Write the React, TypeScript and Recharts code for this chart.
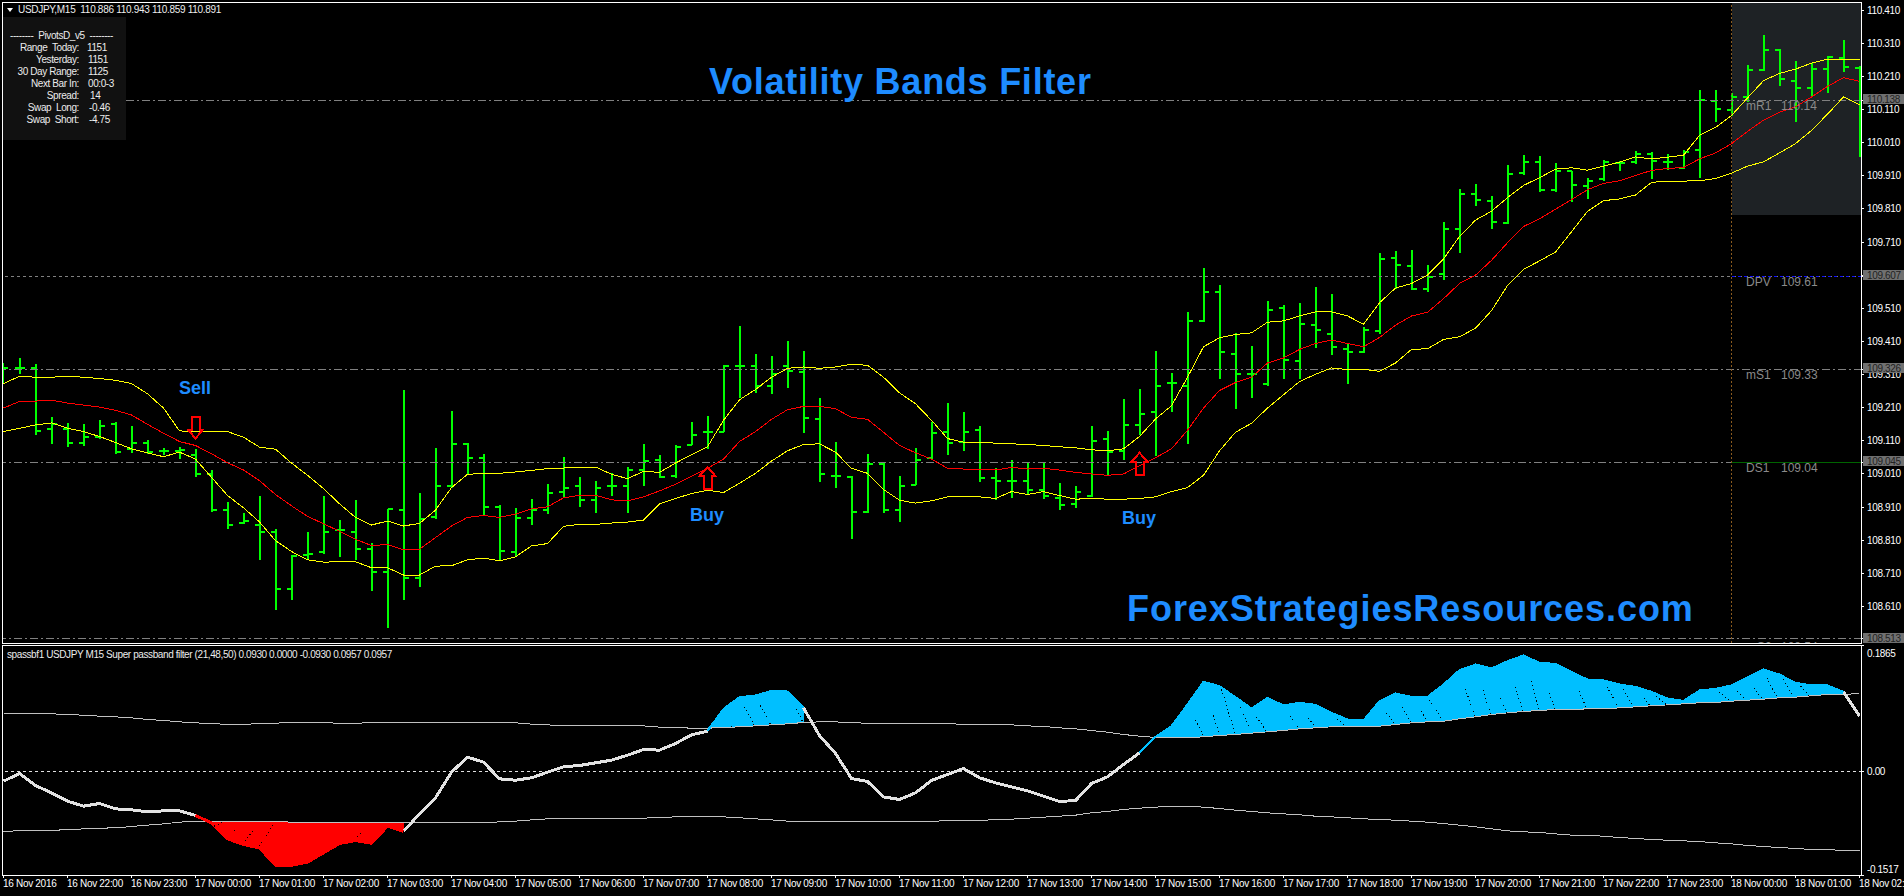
import {
  Area,
  Bar,
  ComposedChart,
  Line,
  ReferenceArea,
  ReferenceLine,
  XAxis,
  YAxis,
} from 'recharts';

const OPEN = [109.315,109.329,109.329,109.145,109.145,109.105,109.123,109.160,109.084,109.105,109.079,109.079,109.068,109.010,108.901,108.862,108.855,108.836,108.664,108.766,108.775,108.840,108.836,108.784,108.713,108.901,108.696,108.879,108.975,109.101,109.058,108.910,108.776,108.877,108.901,108.957,108.975,108.932,108.975,108.975,109.022,109.052,109.003,109.096,109.138,109.138,109.335,109.335,109.277,109.335,109.318,109.175,109.005,109.000,108.895,109.039,108.901,108.978,109.059,109.138,109.108,109.142,108.998,108.990,108.990,108.961,108.938,108.920,108.945,109.117,109.080,109.158,109.197,109.286,109.277,109.471,109.560,109.372,109.311,109.283,109.511,109.351,109.461,109.433,109.388,109.379,109.443,109.661,109.637,109.569,109.613,109.749,109.856,109.834,109.767,109.918,109.953,109.867,109.923,109.878,109.899,109.948,109.951,109.977,109.951,109.934,109.988,110.137,110.108,110.149,110.229,110.291,110.197,110.176,110.232,110.265,110.234];
const HIGH = [109.345,109.360,109.341,109.182,109.163,109.160,109.172,109.166,109.154,109.113,109.089,109.092,109.084,109.022,108.924,108.892,108.943,108.843,108.764,108.836,108.943,108.870,108.932,108.803,108.904,109.262,108.953,109.089,109.199,109.103,109.071,108.917,108.906,108.935,108.979,109.062,109.000,108.990,109.012,109.032,109.099,109.068,109.096,109.166,109.185,109.338,109.456,109.372,109.367,109.411,109.382,109.239,109.107,109.003,109.071,109.042,109.005,109.089,109.166,109.224,109.197,109.154,109.027,109.052,109.046,109.046,108.984,108.973,109.154,109.139,109.236,109.267,109.382,109.314,109.499,109.631,109.581,109.436,109.397,109.532,109.520,109.526,109.575,109.554,109.404,109.453,109.677,109.682,109.686,109.640,109.770,109.870,109.884,109.850,109.942,109.973,109.969,109.948,109.924,109.903,109.959,109.955,109.984,109.983,109.977,109.988,110.170,110.170,110.160,110.244,110.335,110.293,110.256,110.250,110.272,110.320,110.241];
const LOW = [109.281,109.311,109.129,109.102,109.090,109.094,109.117,109.070,109.074,109.071,109.066,109.056,109.000,108.895,108.844,108.858,108.751,108.598,108.631,108.751,108.770,108.760,108.751,108.658,108.545,108.631,108.670,108.873,108.969,109.010,108.883,108.748,108.760,108.855,108.889,108.938,108.909,108.892,108.945,108.892,108.973,108.998,108.998,109.096,109.086,109.136,109.240,109.254,109.252,109.271,109.133,108.985,108.969,108.813,108.893,108.893,108.865,108.978,109.055,109.068,109.080,108.985,108.932,108.938,108.947,108.935,108.901,108.906,108.941,109.007,109.053,109.129,109.065,109.197,109.102,109.468,109.298,109.206,109.238,109.277,109.298,109.296,109.390,109.370,109.283,109.376,109.431,109.569,109.564,109.558,109.596,109.677,109.819,109.749,109.764,109.911,109.862,109.860,109.831,109.840,109.895,109.924,109.945,109.899,109.926,109.930,109.902,110.071,110.090,110.133,110.225,110.182,110.071,110.148,110.161,110.223,109.967];
const CLOSE = [109.329,109.329,109.141,109.162,109.105,109.121,109.154,109.077,109.105,109.077,109.079,109.082,109.010,108.901,108.856,108.868,108.836,108.662,108.762,108.768,108.836,108.840,108.784,108.713,108.903,108.696,108.873,108.975,109.099,109.058,108.910,108.778,108.877,108.901,108.954,108.967,108.932,108.969,108.975,109.022,109.049,109.000,109.092,109.129,109.138,109.335,109.335,109.277,109.311,109.320,109.179,109.010,109.005,108.894,109.039,108.901,108.975,109.052,109.133,109.105,109.136,108.998,108.988,108.990,108.963,108.945,108.916,108.957,109.111,109.077,109.157,109.191,109.277,109.286,109.471,109.559,109.377,109.311,109.311,109.505,109.355,109.464,109.446,109.392,109.379,109.446,109.658,109.640,109.569,109.606,109.749,109.856,109.837,109.772,109.915,109.953,109.868,109.924,109.882,109.895,109.951,109.948,109.975,109.955,109.951,109.982,110.139,110.111,110.149,110.228,110.291,110.203,110.176,110.232,110.269,110.238,110.047];

const BAND_UPPER = [109.283,109.305,109.302,109.302,109.305,109.302,109.298,109.293,109.283,109.252,109.209,109.140,109.138,109.138,109.138,109.121,109.091,109.085,109.043,109.006,108.966,108.920,108.879,108.856,108.868,108.853,108.861,108.901,108.969,109.009,109.012,109.012,109.016,109.021,109.026,109.028,109.031,109.031,109.009,108.996,109.018,109.015,109.043,109.068,109.092,109.172,109.234,109.265,109.302,109.329,109.333,109.329,109.333,109.341,109.338,109.302,109.255,109.222,109.172,109.117,109.106,109.106,109.103,109.101,109.099,109.096,109.092,109.089,109.083,109.080,109.086,109.123,109.176,109.216,109.302,109.394,109.421,109.431,109.436,109.468,109.472,109.487,109.499,109.499,109.487,109.462,109.527,109.571,109.585,109.610,109.659,109.727,109.776,109.803,109.844,109.881,109.904,109.930,109.934,109.927,109.939,109.951,109.967,109.961,109.966,109.972,110.032,110.056,110.092,110.145,110.197,110.219,110.232,110.250,110.262,110.260,110.262];
const BAND_MID = [109.209,109.229,109.230,109.233,109.224,109.218,109.212,109.202,109.188,109.160,109.133,109.108,109.096,109.071,109.044,109.022,108.990,108.948,108.914,108.882,108.860,108.837,108.813,108.794,108.797,108.781,108.783,108.818,108.853,108.879,108.885,108.879,108.889,108.905,108.911,108.938,108.946,108.946,108.932,108.929,108.941,108.959,108.979,109.003,109.027,109.055,109.108,109.138,109.175,109.204,109.214,109.214,109.207,109.181,109.175,109.136,109.096,109.074,109.055,109.027,109.025,109.025,109.022,109.030,109.025,109.027,109.022,109.015,109.010,109.006,109.010,109.035,109.059,109.086,109.142,109.209,109.262,109.286,109.302,109.345,109.360,109.386,109.404,109.414,109.404,109.394,109.422,109.459,109.487,109.498,109.539,109.585,109.610,109.655,109.708,109.757,109.780,109.809,109.838,109.868,109.887,109.895,109.911,109.926,109.932,109.935,109.961,109.979,110.007,110.044,110.078,110.102,110.118,110.148,110.180,110.206,110.195];
const BAND_LOWER = [109.138,109.148,109.158,109.164,109.148,109.138,109.123,109.105,109.086,109.074,109.062,109.076,109.055,109.000,108.945,108.908,108.865,108.809,108.776,108.751,108.744,108.745,108.745,108.727,108.727,108.705,108.705,108.732,108.733,108.751,108.756,108.748,108.760,108.793,108.800,108.852,108.858,108.858,108.862,108.865,108.871,108.920,108.936,108.951,108.961,108.954,108.982,109.012,109.049,109.080,109.099,109.101,109.076,109.027,109.012,108.963,108.931,108.922,108.929,108.941,108.943,108.941,108.936,108.957,108.948,108.957,108.945,108.934,108.936,108.934,108.934,108.936,108.941,108.957,108.969,109.006,109.080,109.136,109.163,109.209,109.249,109.289,109.311,109.330,109.325,109.326,109.320,109.345,109.386,109.388,109.416,109.424,109.450,109.503,109.579,109.628,109.653,109.680,109.741,109.803,109.835,109.840,109.852,109.890,109.894,109.894,109.895,109.902,109.918,109.939,109.952,109.979,110.007,110.047,110.096,110.148,110.124];

const FILTER = [-0.0137,-0.0025,-0.0201,-0.0309,-0.0431,-0.0505,-0.0466,-0.0544,-0.0559,-0.0588,-0.0574,-0.0574,-0.0642,-0.0750,-0.0985,-0.1069,-0.1118,-0.1373,-0.1373,-0.1328,-0.1191,-0.1054,-0.1010,-0.1049,-0.0799,-0.0877,-0.0618,-0.0382,-0.0005,0.0216,0.0142,-0.0103,-0.0123,-0.0088,-0.0005,0.0074,0.0093,0.0132,0.0172,0.0245,0.0328,0.0319,0.0417,0.0544,0.0598,0.0926,0.1098,0.1123,0.1191,0.1181,0.0941,0.0534,0.0270,-0.0098,-0.0142,-0.0368,-0.0407,-0.0309,-0.0127,-0.0039,0.0049,-0.0088,-0.0162,-0.0221,-0.0279,-0.0358,-0.0436,-0.0422,-0.0172,-0.0074,0.0108,0.0279,0.0515,0.0672,0.0990,0.1324,0.1260,0.1098,0.0931,0.1088,0.0975,0.1015,0.0985,0.0868,0.0770,0.0755,0.1039,0.1152,0.1103,0.1103,0.1284,0.1495,0.1578,0.1520,0.1627,0.1711,0.1603,0.1588,0.1466,0.1358,0.1343,0.1284,0.1250,0.1176,0.1078,0.1044,0.1196,0.1221,0.1270,0.1392,0.1505,0.1431,0.1309,0.1270,0.1270,0.1176,0.0819];
const LEVEL_UP = [0.0853,0.0853,0.0853,0.0853,0.0843,0.0833,0.0819,0.0809,0.0794,0.0770,0.0755,0.0735,0.0721,0.0706,0.0701,0.0701,0.0706,0.0716,0.0725,0.0725,0.0721,0.0716,0.0716,0.0721,0.0730,0.0730,0.0730,0.0730,0.0730,0.0730,0.0730,0.0721,0.0721,0.0701,0.0691,0.0676,0.0676,0.0676,0.0676,0.0676,0.0676,0.0657,0.0652,0.0642,0.0642,0.0652,0.0662,0.0676,0.0691,0.0706,0.0725,0.0735,0.0735,0.0721,0.0716,0.0716,0.0716,0.0716,0.0716,0.0706,0.0701,0.0701,0.0696,0.0691,0.0676,0.0667,0.0647,0.0632,0.0608,0.0583,0.0549,0.0525,0.0505,0.0500,0.0500,0.0515,0.0534,0.0549,0.0569,0.0588,0.0608,0.0632,0.0647,0.0662,0.0662,0.0662,0.0672,0.0696,0.0721,0.0735,0.0745,0.0779,0.0809,0.0843,0.0868,0.0887,0.0902,0.0917,0.0917,0.0926,0.0926,0.0941,0.0956,0.0971,0.0985,0.1000,0.1015,0.1020,0.1039,0.1054,0.1069,0.1088,0.1098,0.1118,0.1137,0.1142,0.1147];
const LEVEL_DN = [-0.0873,-0.0868,-0.0868,-0.0858,-0.0853,-0.0838,-0.0828,-0.0824,-0.0804,-0.0784,-0.0765,-0.0740,-0.0725,-0.0730,-0.0735,-0.0735,-0.0735,-0.0730,-0.0740,-0.0740,-0.0740,-0.0740,-0.0740,-0.0740,-0.0740,-0.0750,-0.0750,-0.0750,-0.0750,-0.0750,-0.0750,-0.0735,-0.0725,-0.0706,-0.0691,-0.0681,-0.0681,-0.0681,-0.0681,-0.0681,-0.0681,-0.0672,-0.0662,-0.0662,-0.0662,-0.0662,-0.0676,-0.0691,-0.0706,-0.0725,-0.0735,-0.0735,-0.0735,-0.0735,-0.0735,-0.0735,-0.0735,-0.0725,-0.0725,-0.0721,-0.0721,-0.0711,-0.0706,-0.0696,-0.0681,-0.0667,-0.0652,-0.0637,-0.0603,-0.0583,-0.0554,-0.0534,-0.0520,-0.0505,-0.0505,-0.0520,-0.0539,-0.0564,-0.0583,-0.0603,-0.0618,-0.0632,-0.0652,-0.0662,-0.0676,-0.0691,-0.0701,-0.0711,-0.0725,-0.0740,-0.0760,-0.0784,-0.0809,-0.0838,-0.0868,-0.0882,-0.0892,-0.0912,-0.0931,-0.0936,-0.0946,-0.0966,-0.0980,-0.0995,-0.1005,-0.1015,-0.1025,-0.1044,-0.1059,-0.1083,-0.1098,-0.1113,-0.1127,-0.1142,-0.1147,-0.1152,-0.1162];

// dotted black streaks left inside the histogram fills: [bar, value, bar, value]
const FILL_STREAKS = [
  [13.17,-0.0799,13.68,-0.0740],[14.07,-0.0946,14.45,-0.0863],[15.09,-0.1020,15.72,-0.0824],[16.0,-0.1093,16.82,-0.0789],[22.1,-0.0956,22.43,-0.0873],
  [45.47,0.0672,45.98,0.0564],[46.29,0.0956,46.93,0.0681],[47.3,0.0975,47.94,0.0696],[49.55,0.0917,49.93,0.0745],
  [74.48,0.0760,74.99,0.0534],[75.62,0.0828,75.95,0.0574],[76.13,0.1211,76.97,0.0574],[77.28,0.0956,77.97,0.0598],[78.3,0.0809,78.94,0.0598],
  [80.26,0.0868,80.95,0.0637],[81.54,0.0794,81.97,0.0662],[83.37,0.0779,83.88,0.0672],[86.43,0.0868,86.94,0.0711],[87.33,0.1005,87.96,0.0721],
  [88.6,0.0892,88.98,0.0745],[89.11,0.1054,89.95,0.0760],[91.36,0.1221,91.97,0.0819],[92.47,0.1201,92.96,0.0843],[93.53,0.1088,93.96,0.0868],
  [94.47,0.1250,94.96,0.0892],[95.49,0.1333,95.95,0.0917],[96.51,0.1211,96.97,0.0926],[98.47,0.1186,98.93,0.0941],[100.21,0.1250,100.92,0.0956],
  [101.23,0.1211,101.87,0.0966],[102.38,0.1137,102.89,0.0975],[103.27,0.1113,103.91,0.0990],[107.22,0.1172,107.86,0.1054],[108.37,0.1186,108.88,0.1064],
  [109.39,0.1235,109.9,0.1074],[110.21,0.1382,110.87,0.1088],[111.23,0.1358,111.89,0.1103],[112.33,0.1260,112.84,0.1113],
];

const TIME_LABELS = [
  '16 Nov 2016', '16 Nov 22:00', '16 Nov 23:00',
  '17 Nov 00:00', '17 Nov 01:00', '17 Nov 02:00', '17 Nov 03:00', '17 Nov 04:00', '17 Nov 05:00',
  '17 Nov 06:00', '17 Nov 07:00', '17 Nov 08:00', '17 Nov 09:00', '17 Nov 10:00', '17 Nov 11:00',
  '17 Nov 12:00', '17 Nov 13:00', '17 Nov 14:00', '17 Nov 15:00', '17 Nov 16:00', '17 Nov 17:00',
  '17 Nov 18:00', '17 Nov 19:00', '17 Nov 20:00', '17 Nov 21:00', '17 Nov 22:00', '17 Nov 23:00',
  '18 Nov 00:00', '18 Nov 01:00', '18 Nov 02:00',
];
const TIME_TICKS = TIME_LABELS.map((_, k) => k * 4);

const PRICE_TICKS = [110.41,110.31,110.21,110.11,110.01,109.91,109.81,109.71,109.61,109.51,109.41,109.31,109.21,109.11,109.01,108.91,108.81,108.71,108.61];
const PRICE_TAGS = [110.138, 109.607, 109.326, 109.045, 108.513];
const FILTER_TICKS = [0.1865, 0, -0.1517];

const SELL_MARKS: Record<number, number> = { 12: 109.117 };
const BUY_MARKS: Record<number, number> = { 44: 109.031, 71: 109.074 };

const RED_SPAN = [12, 25];
const BLUE_SPANS = [[44, 50], [71, 115]];

const PIVOT_ROWS = [
  ['Range  Today:', '1151', 87],
  ['Yesterday:', '1151', 88],
  ['30 Day Range:', '1125', 88],
  ['Next Bar In:', '00:0-3', 88],
  ['Spread:', '14', 90],
  ['Swap  Long:', '-0.46', 89],
  ['Swap  Short:', '-4.75', 89],
];

const PIVOT_LABELS = [
  ['mR1', '110.14', 107],
  ['DPV', '109.61', 283],
  ['mS1', '109.33', 376],
  ['DS1', '109.04', 469],
];

const inSpan = (i: number, span: number[]) => i >= span[0] && i <= span[1];
const inBlue = (i: number) => BLUE_SPANS.some((s) => inSpan(i, s));
const inRed = (i: number) => inSpan(i, RED_SPAN);

const priceData = OPEN.map((open, i) => ({
  i,
  open,
  high: HIGH[i],
  low: LOW[i],
  close: CLOSE[i],
  range: [LOW[i], HIGH[i]],
  upper: BAND_UPPER[i],
  mid: BAND_MID[i],
  lower: BAND_LOWER[i],
  sell: SELL_MARKS[i] ?? null,
  buy: BUY_MARKS[i] ?? null,
}));

const filterData = FILTER.map((v, i) => {
  const red = inRed(i);
  const blue = inBlue(i);
  const whiteEdge = inRed(i - 1) && !inRed(i + 1) || inBlue(i - 1) && !inBlue(i + 1);
  const whiteStart = (red && !inRed(i - 1)) || (blue && !inBlue(i - 1));
  return {
    i,
    up: LEVEL_UP[i],
    dn: LEVEL_DN[i],
    white: (!red && !blue) || whiteEdge || whiteStart ? v : null,
    red: red ? v : null,
    blue: blue ? v : null,
    redFill: red ? [LEVEL_DN[i], Math.min(v, LEVEL_DN[i])] : null,
    blueFill: blue ? [LEVEL_UP[i], Math.max(v, LEVEL_UP[i])] : null,
  };
});

const FONT = '"Liberation Sans", Arial, sans-serif';
const X_DOMAIN: [number, number] = [-0.03125, 116.156];

// one OHLC bar: range bar gives the high/low box, ticks are scaled inside it
function OhlcBar(props: any) {
  const { x, y, width, height, payload } = props;
  const cx = x + width / 2;
  const span = payload.high - payload.low || 1;
  const openY = y + (height * (payload.high - payload.open)) / span;
  const closeY = y + (height * (payload.high - payload.close)) / span;
  return (
    <g stroke="#00ff00" strokeWidth={2}>
      <line x1={cx} x2={cx} y1={y} y2={y + height} />
      <line x1={cx - 5} x2={cx} y1={openY} y2={openY} />
      <line x1={cx} x2={cx + 5} y1={closeY} y2={closeY} />
    </g>
  );
}

function SellArrow(props: any) {
  const { cx, cy, value, index } = props;
  if (value == null || cy == null) return <g key={index} />;
  const d = `M${cx} ${cy} l-7.5 -9 h3.5 v-13 h8 v13 h3.5 z`;
  return <path key={index} d={d} fill="none" stroke="#ff0000" strokeWidth={2} />;
}

function BuyArrow(props: any) {
  const { cx, cy, value, index } = props;
  if (value == null || cy == null) return <g key={index} />;
  const d = `M${cx} ${cy} l-8 9 h4 v13 h8 v-13 h4 z`;
  return <path key={index} d={d} fill="none" stroke="#ff0000" strokeWidth={2} />;
}

function PriceTick(props: any) {
  const { x, y, payload } = props;
  const isTag = PRICE_TAGS.includes(payload.value);
  if (isTag) {
    return (
      <g>
        <rect x={x - 4} y={y - 6} width={41} height={10} fill="#707070" />
        <text x={x} y={y + 3} fontSize={10} fontFamily={FONT} fill="#222" letterSpacing={-0.35}>
          {payload.value.toFixed(3)}
        </text>
      </g>
    );
  }
  return (
    <text x={x} y={y + 3.5} fontSize={10} fontFamily={FONT} fill="#fff" letterSpacing={-0.35}>
      {payload.value.toFixed(3)}
    </text>
  );
}

function FilterTick(props: any) {
  const { x, y, payload } = props;
  const v = payload.value;
  const dy = v > 0 ? 12 : v < 0 ? -2 : 3.5;
  const label = v === 0 ? '0.00' : v.toFixed(4);
  return (
    <text x={x} y={y + dy} fontSize={10} fontFamily={FONT} fill="#fff" letterSpacing={-0.35}>
      {label}
    </text>
  );
}

function TimeTick(props: any) {
  const { x, y, index } = props;
  return (
    <text x={x - 0.5} y={y + 8} fontSize={10} fontFamily={FONT} fill="#fff" letterSpacing={-0.3}>
      {TIME_LABELS[index]}
    </text>
  );
}

function PriceChart() {
  return (
    <ComposedChart
      width={1904}
      height={644}
      data={priceData}
      margin={{ top: 2.5, right: 0, left: 3, bottom: 0.7 }}
      barSize={2}
    >
      <XAxis dataKey="i" type="number" domain={X_DOMAIN} hide allowDataOverflow />
      <YAxis
        orientation="right"
        width={42}
        domain={[108.499, 110.433]}
        allowDataOverflow
        ticks={[...PRICE_TICKS, ...PRICE_TAGS]}
        interval={0}
        tick={<PriceTick />}
        tickSize={2}
        tickMargin={3}
        stroke="#fff"
        axisLine={false}
      />
      <ReferenceArea x1={108} x2={X_DOMAIN[1]} y1={109.792} y2={110.433} fill="#1e2225" fillOpacity={1} stroke="none" />
      <ReferenceLine y={110.138} stroke="#808080" strokeDasharray="8 3 2 3" />
      <ReferenceLine y={109.607} stroke="#808080" strokeDasharray="3 3" />
      <ReferenceLine y={109.326} stroke="#808080" strokeDasharray="8 3 2 3" />
      <ReferenceLine y={109.045} stroke="#808080" strokeDasharray="8 3 2 3" />
      <ReferenceLine y={108.513} stroke="#808080" strokeDasharray="8 3 2 3" />
      <ReferenceLine segment={[{ x: 108, y: 109.607 }, { x: X_DOMAIN[1], y: 109.607 }]} stroke="#1010ff" strokeDasharray="3 3" />
      <ReferenceLine segment={[{ x: 108, y: 109.045 }, { x: X_DOMAIN[1], y: 109.045 }]} stroke="#006400" />
      <ReferenceLine x={108} stroke="#8a5a1e" strokeDasharray="2 2" />
      <Bar dataKey="range" shape={<OhlcBar />} isAnimationActive={false} />
      <Line dataKey="upper" stroke="#ffff00" strokeWidth={1} dot={false} activeDot={false} type="linear" isAnimationActive={false} />
      <Line dataKey="mid" stroke="#ff0000" strokeWidth={1} dot={false} activeDot={false} type="linear" isAnimationActive={false} />
      <Line dataKey="lower" stroke="#ffff00" strokeWidth={1} dot={false} activeDot={false} type="linear" isAnimationActive={false} />
      <Line dataKey="sell" stroke="none" dot={SellArrow} activeDot={false} isAnimationActive={false} />
      <Line dataKey="buy" stroke="none" dot={BuyArrow} activeDot={false} isAnimationActive={false} />
    </ComposedChart>
  );
}

function FilterChart() {
  return (
    <ComposedChart
      width={1904}
      height={252}
      data={filterData}
      margin={{ top: 1, right: 0, left: 3, bottom: 0 }}
    >
      <XAxis
        dataKey="i"
        type="number"
        domain={X_DOMAIN}
        allowDataOverflow
        ticks={TIME_TICKS}
        interval={0}
        height={21}
        tick={<TimeTick />}
        tickSize={3}
        tickMargin={1}
        stroke="#fff"
        axisLine={false}
      />
      <YAxis
        orientation="right"
        width={42}
        domain={[-0.1517, 0.1865]}
        allowDataOverflow
        ticks={FILTER_TICKS}
        interval={0}
        tick={<FilterTick />}
        tickSize={2}
        tickMargin={3}
        stroke="#fff"
        axisLine={false}
      />
      <ReferenceLine y={0} stroke="#e0e0e0" strokeDasharray="3 3" />
      <Area dataKey="redFill" stroke="none" fill="#ff0000" fillOpacity={1} type="linear" dot={false} activeDot={false} isAnimationActive={false} />
      <Area dataKey="blueFill" stroke="none" fill="#00bfff" fillOpacity={1} type="linear" dot={false} activeDot={false} isAnimationActive={false} />
      <Line dataKey="up" stroke="#c0c0c0" strokeWidth={1} dot={false} activeDot={false} isAnimationActive={false} />
      <Line dataKey="dn" stroke="#c0c0c0" strokeWidth={1} dot={false} activeDot={false} isAnimationActive={false} />
      <Line dataKey="white" stroke="#e2e2e2" strokeWidth={3} dot={false} activeDot={false} isAnimationActive={false} />
      <Line dataKey="red" stroke="#ff0000" strokeWidth={3} dot={false} activeDot={false} isAnimationActive={false} />
      <Line dataKey="blue" stroke="#00bfff" strokeWidth={2} dot={false} activeDot={false} isAnimationActive={false} />
      {FILL_STREAKS.map(([x1, y1, x2, y2], k) => (
        <ReferenceLine
          key={k}
          segment={[{ x: x1, y: y1 }, { x: x2, y: y2 }]}
          stroke="#000"
          strokeDasharray="1 3"
          zIndex={600}
        />
      ))}
    </ComposedChart>
  );
}

const abs = (left: number, top: number, extra: React.CSSProperties = {}): React.CSSProperties => ({
  position: 'absolute',
  left,
  top,
  whiteSpace: 'pre',
  fontFamily: FONT,
  lineHeight: 1,
  ...extra,
});

const small = { fontSize: 10, color: '#ececec', letterSpacing: -0.4 };
const bigBlue = { fontSize: 36, fontWeight: 700, color: '#1e8cff', letterSpacing: 0.75 };
const noteBlue = { fontSize: 18, fontWeight: 700, color: '#1e8cff' };
const pivotText = { fontSize: 12, color: '#8a8a8a' };

export default function App() {
  return (
    <div style={{ position: 'fixed', left: 0, top: 0, width: 1904, height: 896, background: '#000', overflow: 'hidden', shapeRendering: 'crispEdges' }}>
      <div style={{ position: 'absolute', left: 0, top: 0 }}>
        <PriceChart />
      </div>
      <div style={{ position: 'absolute', left: 0, top: 644 }}>
        <FilterChart />
      </div>

      {/* chart window frames */}
      <div style={{ position: 'absolute', left: 2, top: 2, width: 1860, height: 642, boxSizing: 'border-box', border: '1px solid #fff' }} />
      <div style={{ position: 'absolute', left: 2, top: 645, width: 1860, height: 231, boxSizing: 'border-box', border: '1px solid #fff' }} />

      {/* header and pivots box */}
      <div style={{ position: 'absolute', left: 7, top: 8, width: 0, height: 0, borderLeft: '3.5px solid transparent', borderRight: '3.5px solid transparent', borderTop: '4px solid #fff' }} />
      <div style={abs(18, 5, { ...small, letterSpacing: -0.3 })}>USDJPY,M15  110.886 110.943 110.859 110.891</div>
      <div style={{ position: 'absolute', left: 3, top: 17, width: 123, height: 123, background: '#111' }} />
      <div style={abs(10, 31, small)}>--------  PivotsD_v5  --------</div>
      {PIVOT_ROWS.map(([name, value, vx], k) => (
        <div key={k}>
          <div style={abs(0, 43 + k * 12, { ...small, width: 79, textAlign: 'right' })}>{name}</div>
          <div style={abs(vx as number, 43 + k * 12, small)}>{value}</div>
        </div>
      ))}

      {/* pivot level labels */}
      {PIVOT_LABELS.map(([name, value, y], k) => (
        <div key={k}>
          <div style={abs(1746, (y as number) - 7, pivotText)}>{name}</div>
          <div style={abs(1781, (y as number) - 7, pivotText)}>{value}</div>
        </div>
      ))}
      <div style={{ position: 'absolute', left: 1700, top: 630, width: 150, height: 13, overflow: 'hidden' }}>
        <div style={abs(57, 11, pivotText)}>S2</div>
        <div style={abs(81, 11, pivotText)}>108.54</div>
      </div>

      <div style={abs(709, 64, bigBlue)}>Volatility Bands Filter</div>
      <div style={abs(1127, 591, { ...bigBlue, letterSpacing: 0.95 })}>ForexStrategiesResources.com</div>
      <div style={abs(179, 379, noteBlue)}>Sell</div>
      <div style={abs(690, 506, noteBlue)}>Buy</div>
      <div style={abs(1122, 509, noteBlue)}>Buy</div>

      <div style={abs(7, 650, small)}>spassbf1 USDJPY M15 Super passband filter (21,48,50) 0.0930 0.0000 -0.0930 0.0957 0.0957</div>
    </div>
  );
}
